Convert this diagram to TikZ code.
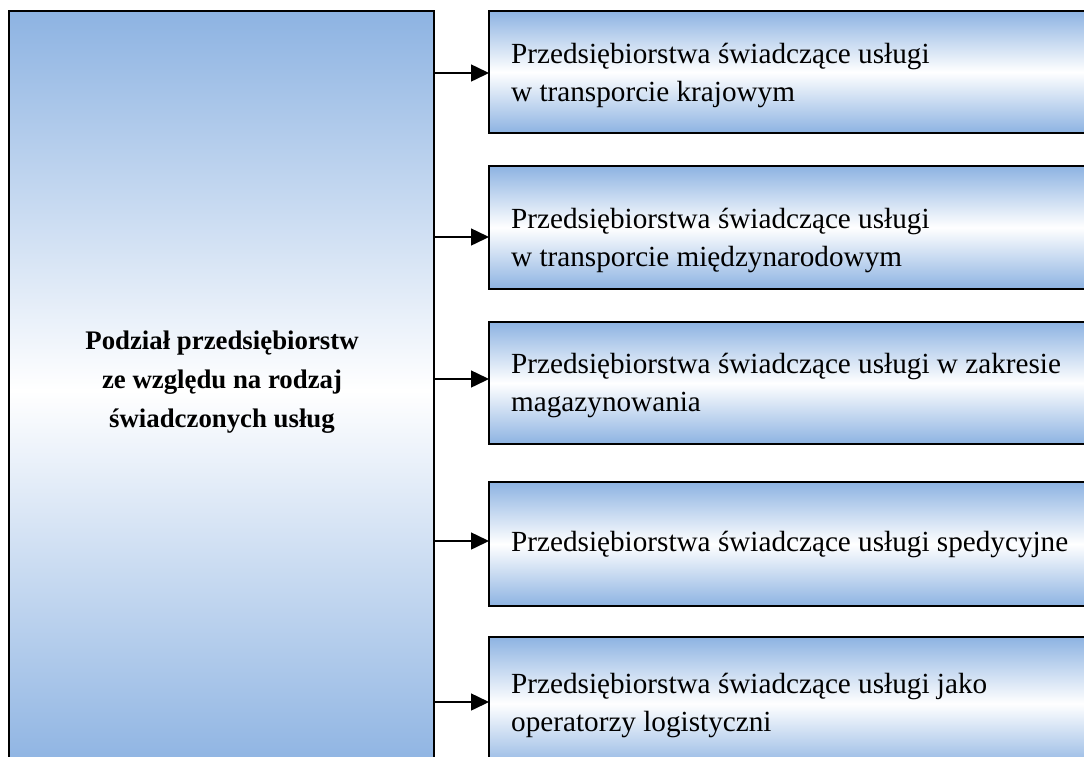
\documentclass[tikz,border=0pt]{standalone}
\usepackage{fontspec}
\setmainfont{Liberation Serif}
\usetikzlibrary{arrows.meta}
\definecolor{boxblue}{RGB}{141,179,226}
\begin{document}
\begin{tikzpicture}[x=1pt,y=-1pt,
  panel/.style={draw=black,line width=1.6pt,top color=boxblue,bottom color=boxblue,middle color=white},
  itemtext/.style={font=\fontsize{29.2}{38}\selectfont,align=left,anchor=west,inner sep=0pt},
  link/.style={-{Triangle[length=18pt,width=17pt]},line width=1.5pt}]
  \useasboundingbox (0,0) rectangle (1084,756);
  % main category box on the left, running past the lower edge
  \path[panel] (9,11) rectangle (434,770);
  \node[font=\bfseries\fontsize{26.8}{39}\selectfont,align=center] (main) at (222,382)
    {Podział przedsiębiorstw\\ze względu na rodzaj\\świadczonych usług};
  \coordinate (mainr) at (434,0);
  % service boxes on the right
  \path[panel] (489,11) rectangle (1095,133);
  \path[panel] (489,166) rectangle (1095,289);
  \path[panel] (489,322) rectangle (1095,444);
  \path[panel] (489,482) rectangle (1095,606);
  \path[panel] (489,637) rectangle (1095,770);
  \coordinate (b1) at (489,73);
  \coordinate (b2) at (489,237);
  \coordinate (b3) at (489,379);
  \coordinate (b4) at (489,541);
  \coordinate (b5) at (489,702);
  \node[itemtext] (t1) at (511,75) {Przedsiębiorstwa świadczące usługi\\w transporcie krajowym};
  \node[itemtext] (t2) at (511,240) {Przedsiębiorstwa świadczące usługi\\w transporcie międzynarodowym};
  \node[itemtext] (t3) at (511,385) {Przedsiębiorstwa świadczące usługi w zakresie\\magazynowania};
  \node[itemtext] (t4) at (511,544) {Przedsiębiorstwa świadczące usługi spedycyjne};
  \node[itemtext] (t5) at (511,705) {Przedsiębiorstwa świadczące usługi jako\\operatorzy logistyczni};
  % connectors
  \foreach \b in {b1,b2,b3,b4,b5}
    \draw[link] (mainr |- \b) -- (\b);
\end{tikzpicture}
\end{document}
